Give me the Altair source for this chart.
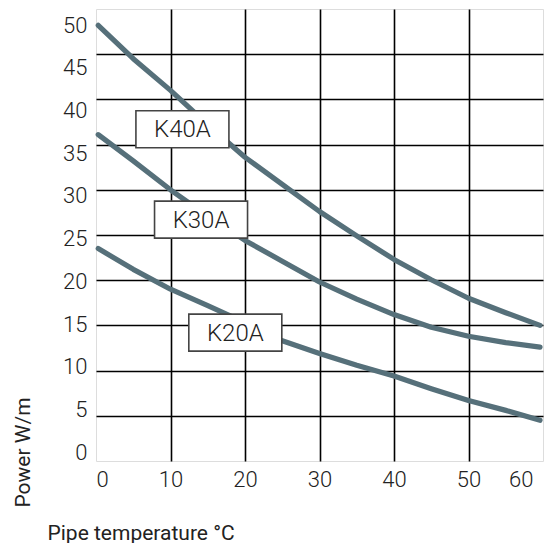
import altair as alt
import pandas as pd

# ---- data ----
temps = [0.3, 5, 10, 15, 20, 25, 30, 35, 40, 45, 50, 55, 59.6]
k40a = [48.2, 44.5, 41.0, 37.2, 33.6, 30.6, 27.6, 24.9, 22.3, 20.05, 18.0, 16.4, 15.0]
k30a = [36.1, 33.2, 30.0, 27.1, 24.4, 22.1, 19.8, 17.9, 16.2, 14.8, 13.8, 13.1, 12.6]
k20a = [23.5, 21.2, 19.0, 17.2, 15.3, 13.3, 11.9, 10.6, 9.4, 8.0, 6.7, 5.6, 4.5]

label_names = ["K40A", "K30A", "K20A"]
label_x = [11.6, 14.1, 18.7]
label_y = [36.7, 26.7, 14.2]

x_ticks = [0, 10, 20, 30, 40, 50, 60]
y_ticks = [0, 5, 10, 15, 20, 25, 30, 35, 40, 45, 50]

rows = []
for name, vals in [("K40A", k40a), ("K30A", k30a), ("K20A", k20a)]:
    for t, v in zip(temps, vals):
        rows.append({"series": name, "temp": t, "power": v})
curves = pd.DataFrame(rows)
labels = pd.DataFrame({"name": label_names, "x": label_x, "y": label_y})

FONT = "Roboto"
LINE_COLOR = "#56707a"

xscale = alt.Scale(domain=[0, 60], nice=False, zero=False)
yscale = alt.Scale(domain=[0, 50], nice=False, zero=False)

xaxis = alt.Axis(
    values=x_ticks,
    title="Pipe temperature °C",
    titleX=-49, titleY=72, titleAlign="left", titleBaseline="middle",
    titleAnchor="start",
    titleFont=FONT, titleFontSize=21, titleFontWeight=400, titleColor="#222",
    labelFont=FONT, labelFontSize=22, labelFontWeight=300, labelColor="#222",
    labelPadding=8, ticks=False, domain=False,
    labelOffset={"condition": {"test": "datum.value == 60", "value": -10}, "value": 0},
    grid=True, gridColor={"condition": {"test": "datum.value == 0 || datum.value == 60", "value": "transparent"}, "value": "#000"},
    gridWidth=1.6,
)
yaxis = alt.Axis(
    values=y_ticks,
    title="Power W/m",
    titleAngle=270, titleX=-73, titleY=498, titleAlign="left", titleBaseline="middle",
    titleFont=FONT, titleFontSize=21, titleFontWeight=400, titleColor="#222",
    labelFont=FONT, labelFontSize=22, labelFontWeight=300, labelColor="#222",
    labelPadding=9, ticks=False, domain=False,
    labelOffset={"condition": {"test": "datum.value == 0", "value": -8.7}, "expr": "datum.value * 0.494 - 8.7"},
    grid=True, gridColor={"condition": {"test": "datum.value == 0 || datum.value == 50", "value": "transparent"}, "value": "#000"},
    gridWidth=1.6,
)

lines = alt.Chart(curves).mark_line(
    strokeWidth=5.2, strokeCap="round", strokeJoin="round", color=LINE_COLOR
).encode(
    x=alt.X("temp:Q", scale=xscale, axis=xaxis),
    y=alt.Y("power:Q", scale=yscale, axis=yaxis),
    detail="series:N",
)

box_shape = "M-1,-0.398 L1,-0.398 L1,0.398 L-1,0.398 Z"
boxes = alt.Chart(labels).mark_point(
    shape=box_shape, size=93 * 93, filled=True, fill="white",
    stroke="#444", strokeWidth=1.6, opacity=1,
).encode(
    x=alt.X("x:Q", scale=xscale),
    y=alt.Y("y:Q", scale=yscale),
)

texts = alt.Chart(labels).mark_text(
    font=FONT, fontSize=24, fontWeight=300, color="#222", baseline="middle", align="center", dy=1,
).encode(
    x=alt.X("x:Q", scale=xscale),
    y=alt.Y("y:Q", scale=yscale),
    text="name:N",
)

chart = alt.layer(lines, boxes, texts).properties(
    width=447, height=452,
    autosize=alt.AutoSizeParams(type="none"),
    padding={"left": 88, "top": 1, "right": 2, "bottom": 82},
).configure_view(
    stroke="#666", strokeWidth=2,
).configure(background="white")

chart.save("out.html", embed_options={"renderer": "svg", "actions": False})
